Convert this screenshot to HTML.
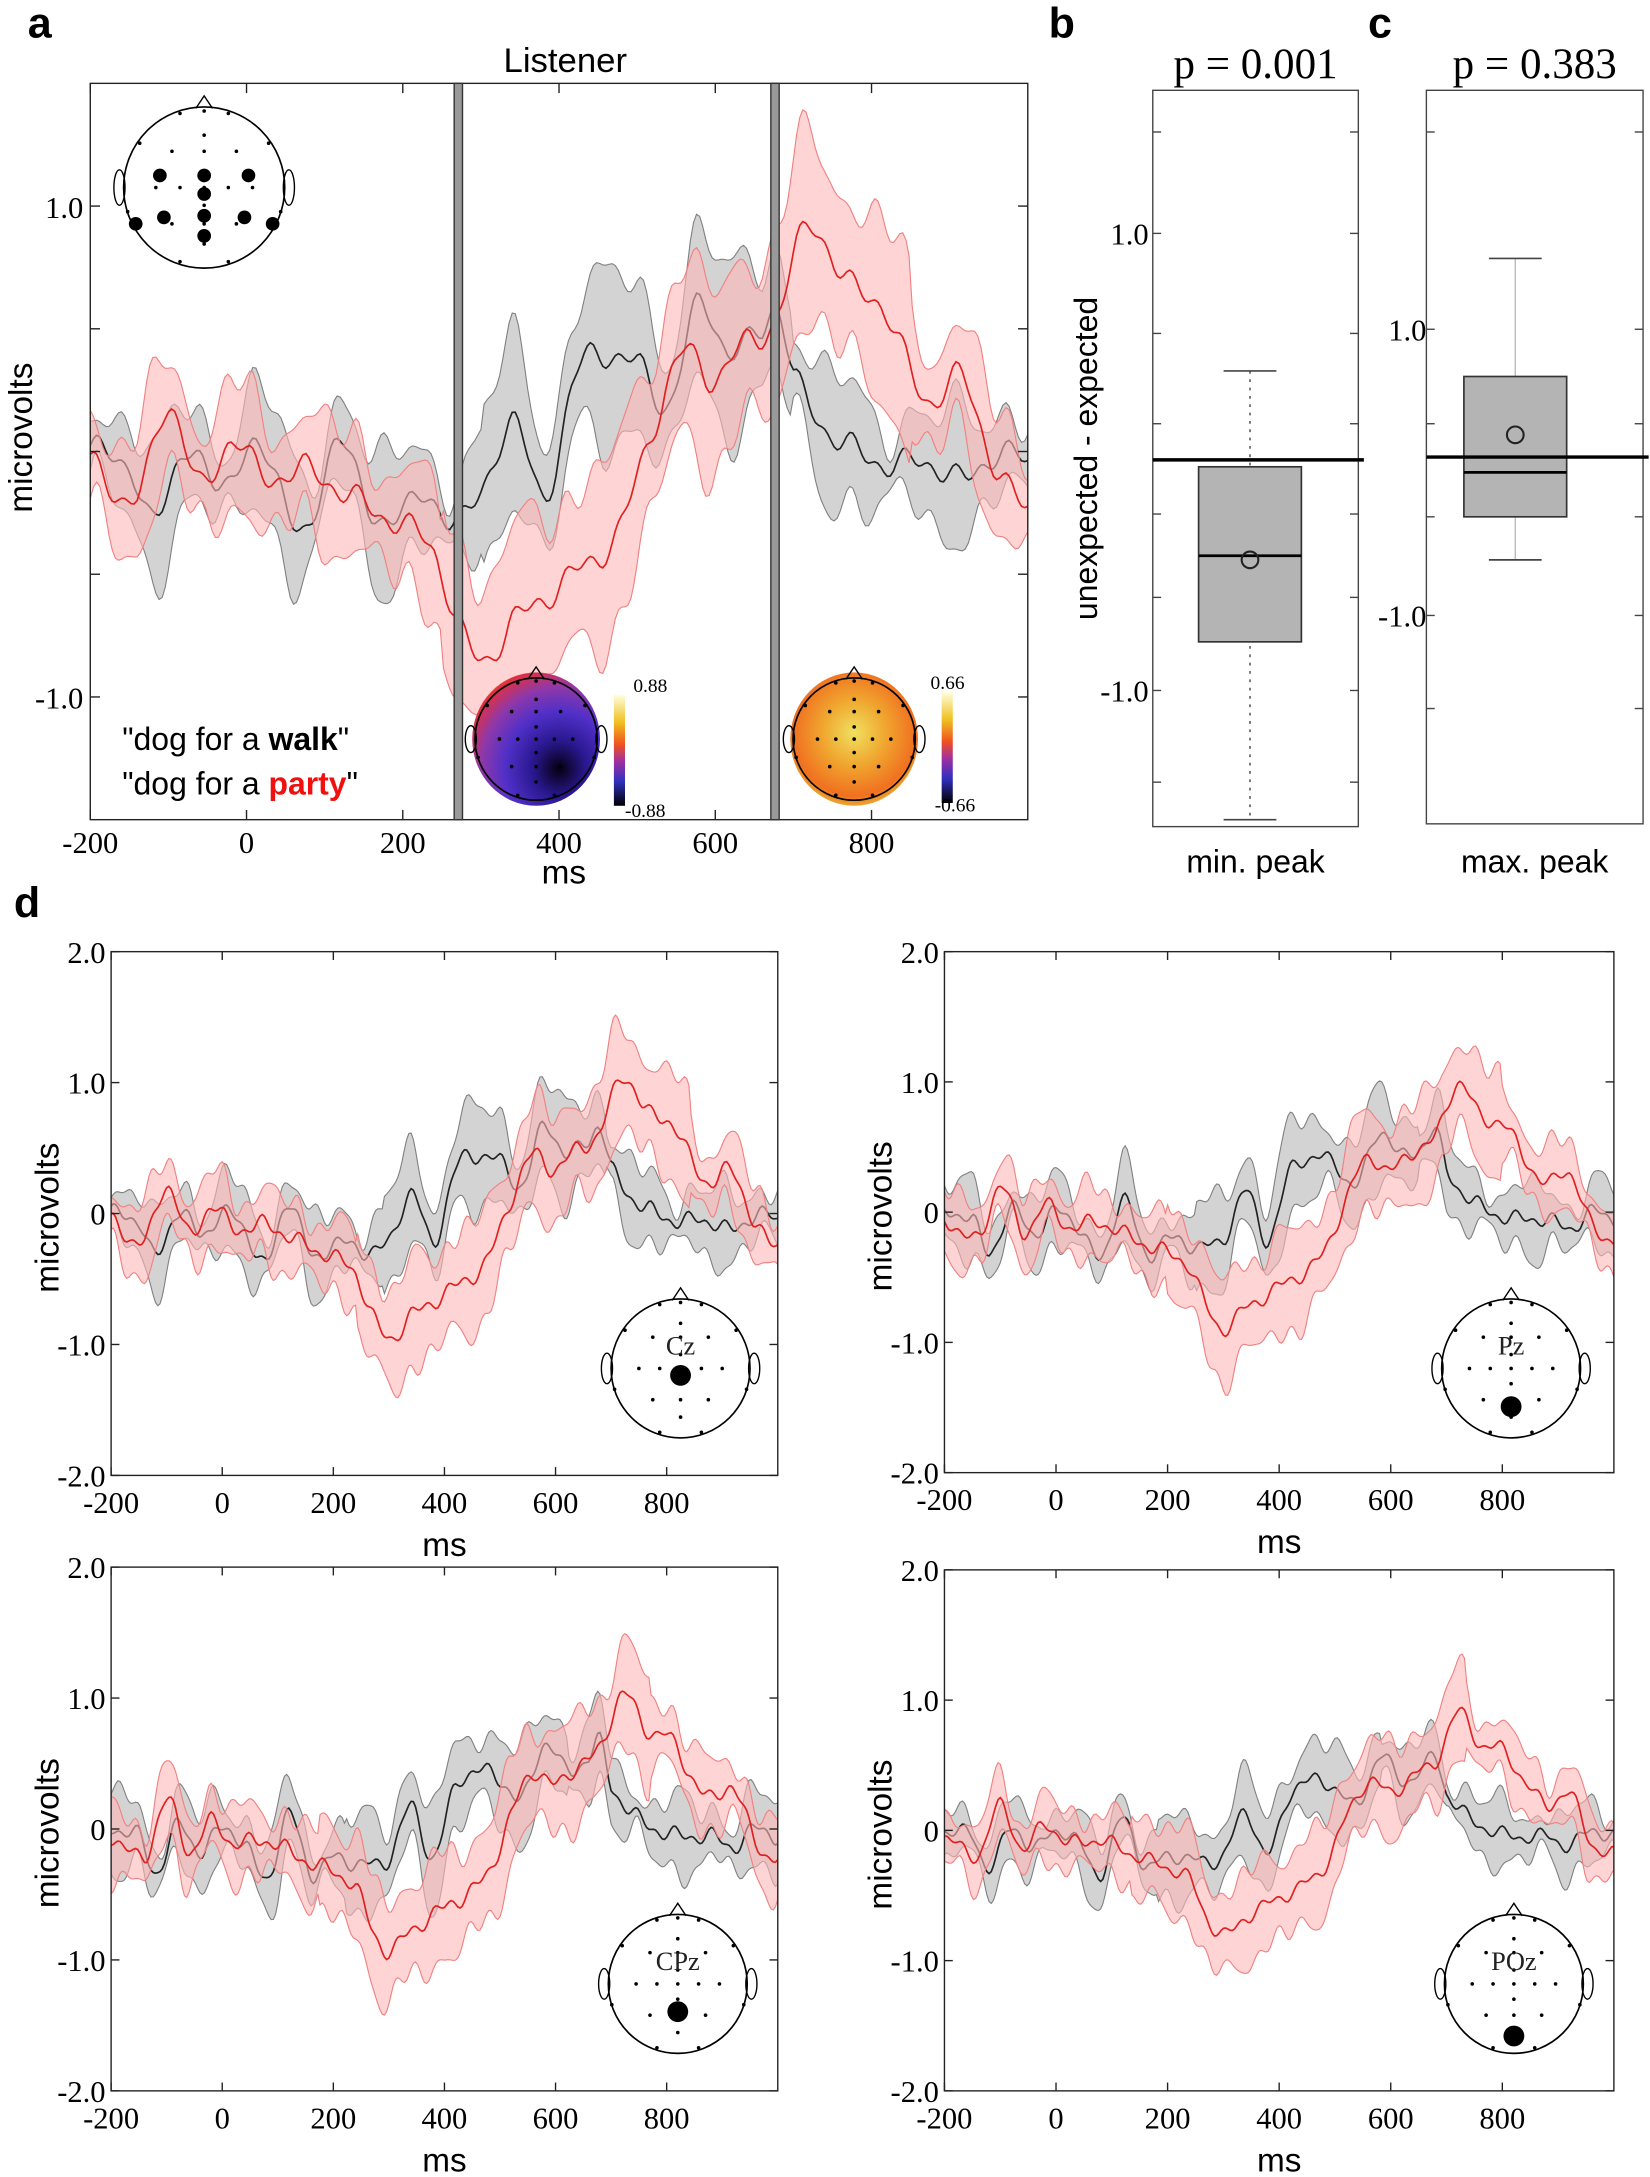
<!DOCTYPE html>
<html><head><meta charset="utf-8"><style>html,body{margin:0;padding:0;background:#fff}svg{display:block}</style></head>
<body>
<svg id="s" xmlns="http://www.w3.org/2000/svg" width="1650" height="2177" viewBox="0 0 1188 1567" preserveAspectRatio="none" font-family="Liberation Sans, sans-serif">
<defs>
<radialGradient id="t1" cx="0.68" cy="0.72" r="0.85">
<stop offset="0" stop-color="#050010"/><stop offset="0.25" stop-color="#2a1890"/><stop offset="0.5" stop-color="#5030c8"/><stop offset="0.72" stop-color="#9038a8"/><stop offset="0.9" stop-color="#e03040"/><stop offset="1" stop-color="#f08020"/></radialGradient>
<radialGradient id="t2" cx="0.5" cy="0.45" r="0.6">
<stop offset="0" stop-color="#f0e060"/><stop offset="0.4" stop-color="#f0a830"/><stop offset="0.8" stop-color="#f07020"/><stop offset="1" stop-color="#e8d040"/></radialGradient>
<linearGradient id="cb" x1="0" y1="0" x2="0" y2="1">
<stop offset="0" stop-color="#ffffe0"/><stop offset="0.25" stop-color="#f0c020"/><stop offset="0.45" stop-color="#f05020"/><stop offset="0.6" stop-color="#a030a0"/><stop offset="0.78" stop-color="#3030c0"/><stop offset="1" stop-color="#000"/></linearGradient>
</defs>
<g id="root"></g>
</svg>
<script>
var NS="http://www.w3.org/2000/svg",root=document.getElementById('root'),defs=document.querySelector('defs');
function el(t,a,p){var e=document.createElementNS(NS,t);for(var k in a)e.setAttribute(k,a[k]);(p||root).appendChild(e);return e;}
function txt(x,y,s,a){var e=el('text',Object.assign({x:x,y:y},a||{}));e.textContent=s;return e;}
function cr(pts,t){var i=0;while(i<pts.length-2&&pts[i+1][0]<t)i++;var p0=pts[Math.max(i-1,0)],p1=pts[i],p2=pts[i+1],p3=pts[Math.min(i+2,pts.length-1)];var u=(t-p1[0])/(p2[0]-p1[0]);u=Math.max(0,Math.min(1,u));var u2=u*u,u3=u2*u;return 0.5*((2*p1[1])+(-p0[1]+p2[1])*u+(2*p0[1]-5*p1[1]+4*p2[1]-p3[1])*u2+(-p0[1]+3*p1[1]-3*p2[1]+p3[1])*u3);}
var K=[[-200,0],[-150,-0.05],[-120,-0.3],[-80,0.02],[-40,-0.15],[0,0],[40,-0.1],[80,-0.35],[120,0.1],[160,-0.3],[200,-0.2],[260,-0.25],[300,-0.2],[340,0.15],[380,-0.2],[420,0.3],[460,0.4],[500,0.35],[540,0.2],[580,0.6],[620,0.4],[660,0.5],[680,0.6],[700,0.3],[740,0.1],[780,0.0],[820,-0.05],[880,-0.05],[920,-0.12],[960,0.0],[1000,-0.05]];
var R=[[-200,-0.05],[-140,-0.2],[-100,0.2],[-60,-0.15],[-20,0.05],[20,-0.1],[80,-0.08],[140,-0.2],[200,-0.3],[240,-0.4],[270,-0.7],[300,-0.85],[340,-0.7],[400,-0.55],[440,-0.45],[480,-0.3],[520,0.1],[560,0.4],[600,0.3],[640,0.45],[680,0.55],[720,0.95],[760,0.7],[800,0.65],[840,0.4],[880,0.2],[920,0.3],[960,-0.1],[1000,-0.2]];
function hwK(t){return 0.2+0.09*Math.sin(t/23)+0.06*Math.sin(t/9+1)+(t>300&&t<700?0.08:0);}
function hwR(t){return 0.22+0.07*Math.sin(t/19+2)+0.05*Math.sin(t/7)+(t>250&&t<850?0.12:0);}
var cid=0;
function plot(x0,x1,yTop,yBot,msA,msB,vTop,vBot,sc,ph){
 cid++;var c=el('clipPath',{id:'c'+cid},defs);el('rect',{x:x0,y:yTop,width:x1-x0,height:yBot-yTop},c);
 var g=el('g',{'clip-path':'url(#c'+cid+')'});
 function X(t){return x0+(t-msA)/(msB-msA)*(x1-x0);}function Y(v){return yTop+(vTop-v)/(vTop-vBot)*(yBot-yTop);}
 [[K,hwK,'#c8c8c8','#808080','#222'],[R,hwR,'#ffb8b8','#f08080','#e02020']].forEach(function(s,si){
  var up=[],dn=[],m=[];
  for(var t=msA;t<=msB;t+=4){var w=0.04*Math.sin(t/11+ph+si)+0.03*Math.sin(t/5.3+ph*2);var v=(cr(s[0],t)+w)*sc;var h=s[1](t+ph*30)*sc;m.push(X(t).toFixed(1)+','+Y(v).toFixed(1));up.push(X(t).toFixed(1)+','+Y(v+h).toFixed(1));dn.unshift(X(t).toFixed(1)+','+Y(v-h).toFixed(1));}
  el('path',{d:'M'+up.join('L')+'L'+dn.join('L')+'Z',fill:s[2],'fill-opacity':si?0.6:0.8,stroke:s[3],'stroke-width':0.8},g);
  el('path',{d:'M'+m.join('L'),fill:'none',stroke:s[4],'stroke-width':1.2},g);
 });
 el('rect',{x:x0,y:yTop,width:x1-x0,height:yBot-yTop,fill:'none',stroke:'#222','stroke-width':1});
 return {X:X,Y:Y};
}
function head(cx,cy,r,big,lab){
 el('path',{d:'M'+(cx-6)+','+(cy-r+1)+'L'+cx+','+(cy-r-8)+'L'+(cx+6)+','+(cy-r+1),fill:'none',stroke:'#000','stroke-width':1});
 el('ellipse',{cx:cx-r-3,cy:cy,rx:4,ry:r*0.22,fill:'none',stroke:'#000','stroke-width':1});
 el('ellipse',{cx:cx+r+3,cy:cy,rx:4,ry:r*0.22,fill:'none',stroke:'#000','stroke-width':1});
 el('circle',{cx:cx,cy:cy,r:r,fill:'none',stroke:'#000','stroke-width':1.2});
 var sm=[[0,-0.95],[-0.3,-0.92],[0.3,-0.92],[-0.8,-0.55],[0.8,-0.55],[0,-0.65],[-0.4,-0.45],[0,-0.45],[0.4,-0.45],[-0.6,0],[-0.3,0],[0,0],[0.3,0],[0.6,0],[-0.95,0.3],[0.95,0.3],[-0.4,0.45],[0,0.45],[0.4,0.45],[0,0.7],[-0.3,0.92],[0.3,0.92],[0,-0.2],[0,0.22]];
 sm.forEach(function(p){el('circle',{cx:cx+p[0]*r,cy:cy+p[1]*r,r:1.3,fill:'#000'});});
 if(big)big.forEach(function(p){el('circle',{cx:cx+p[0]*r,cy:cy+p[1]*r,r:lab?7.5:r*0.085,fill:'#000'});});
 if(lab)txt(cx,cy-r*0.2,lab,{'font-size':19,'text-anchor':'middle',fill:'#222','font-family':'Liberation Serif, serif'});
}
// Panel a
var a=plot(65,740,60,590,-200,1000,1.5,-1.5,1,0);
[[330],[558]].forEach(function(p){el('rect',{x:p[0]-3,y:60,width:6,height:530,fill:'#999',stroke:'#333','stroke-width':1});});
[-200,0,200,400,600,800].forEach(function(t){var x=a.X(t);el('line',{x1:x,y1:590,x2:x,y2:583,stroke:'#222'});el('line',{x1:x,y1:60,x2:x,y2:67,stroke:'#222'});txt(x,614,t,{'font-size':22,'text-anchor':'middle','font-family':'Liberation Serif, serif'});});
[1,0.5,0,-0.5,-1].forEach(function(v){var y=a.Y(v);el('line',{x1:65,y1:y,x2:72,y2:y,stroke:'#222'});el('line',{x1:740,y1:y,x2:733,y2:y,stroke:'#222'});});
txt(60,157,'1.0',{'font-size':22,'text-anchor':'end','font-family':'Liberation Serif, serif'});
txt(60,510,'-1.0',{'font-size':22,'text-anchor':'end','font-family':'Liberation Serif, serif'});
txt(406,636,'ms',{'font-size':24,'text-anchor':'middle'});
txt(407,52,'Listener',{'font-size':25,'text-anchor':'middle'});
txt(23,315,'microvolts',{'font-size':24,'text-anchor':'middle',transform:'rotate(-90 23 315)'});
head(147,135,58,[[-0.55,-0.15],[0,-0.15],[0.55,-0.15],[0,0.08],[-0.5,0.37],[0,0.35],[0.5,0.37],[-0.85,0.45],[0.85,0.45],[0,0.6]]);
var t1=txt(88,540,'"dog for a ',{'font-size':23});var s1=el('tspan',{'font-weight':'bold'},t1);s1.textContent='walk';var s1b=el('tspan',{},t1);s1b.textContent='"';
var t2=txt(88,572,'"dog for a ',{'font-size':23});var s2=el('tspan',{'font-weight':'bold',fill:'#f01010'},t2);s2.textContent='party';var s2b=el('tspan',{},t2);s2b.textContent='"';
el('ellipse',{cx:386,cy:532,rx:46,ry:48,fill:'url(#t1)'});head(386,532,44);
el('rect',{x:442,y:500,width:8,height:80,fill:'url(#cb)'});
txt(456,498,'0.88',{'font-size':14,'font-family':'Liberation Serif, serif'});txt(450,588,'-0.88',{'font-size':14,'font-family':'Liberation Serif, serif'});
el('ellipse',{cx:615,cy:532,rx:46,ry:48,fill:'url(#t2)'});head(615,532,44);
el('rect',{x:678,y:498,width:8,height:80,fill:'url(#cb)'});
txt(670,496,'0.66',{'font-size':14,'font-family':'Liberation Serif, serif'});txt(673,584,'-0.66',{'font-size':14,'font-family':'Liberation Serif, serif'});
// b, c
function box(x0,x1,yT,yB,zy,bt,bb,med,circ,wt,wb,ticks,tl,p,lab,solid){
 el('rect',{x:x0,y:yT,width:x1-x0,height:yB-yT,fill:'none',stroke:'#444','stroke-width':1});
 ticks.forEach(function(y){el('line',{x1:x0,y1:y,x2:x0+6,y2:y,stroke:'#444'});el('line',{x1:x1,y1:y,x2:x1-6,y2:y,stroke:'#444'});});
 var cx=(x0+x1)/2+ (lab=='min. peak'?-4:-14);
 if(solid)el('line',{x1:cx,y1:wt,x2:cx,y2:wb,stroke:'#bbb','stroke-width':1});
 else el('line',{x1:cx,y1:wt,x2:cx,y2:wb,stroke:'#444','stroke-dasharray':'2,4','stroke-width':1});
 el('line',{x1:cx-19,y1:wt,x2:cx+19,y2:wt,stroke:'#444','stroke-width':1.2});el('line',{x1:cx-19,y1:wb,x2:cx+19,y2:wb,stroke:'#444','stroke-width':1.2});
 el('rect',{x:cx-37,y:bt,width:74,height:bb-bt,fill:'#b4b4b4',stroke:'#333','stroke-width':1.2});
 el('line',{x1:cx-37,y1:med,x2:cx+37,y2:med,stroke:'#000','stroke-width':2});
 el('circle',{cx:cx,cy:circ,r:6,fill:'none',stroke:'#222','stroke-width':1.5});
 el('line',{x1:x0,y1:zy,x2:x1+4,y2:zy,stroke:'#000','stroke-width':2.5});
 tl.forEach(function(q){txt(q[0],q[1],q[2],{'font-size':22,'text-anchor':'end','font-family':'Liberation Serif, serif'});});
 txt((x0+x1)/2,56,p,{'font-size':31,'text-anchor':'middle','font-family':'Liberation Serif, serif'});
 txt((x0+x1)/2,628,lab,{'font-size':23,'text-anchor':'middle'});
}
box(830,978,65,595,331,336,462,400,403,267,590,[95,168,240,305,370,430,497,563],[[827,176,'1.0'],[827,505,'-1.0']],'p = 0.001','min. peak',false);
box(1027,1183,65,593,329,271,372,340,313,186,403,[95,237,305,372,443,510],[[1027,245,'1.0'],[1027,451,'-1.0']],'p = 0.383','max. peak',true);
txt(790,330,'unexpected - expected',{'font-size':23,'text-anchor':'middle',transform:'rotate(-90 790 330)'});
// letters
[['a',20,27],['b',755,27],['c',985,27],['d',10,660]].forEach(function(q){txt(q[1],q[2],q[0],{'font-size':31,'font-weight':'bold'});});
// d panels
[[80,560,685,1062,'Cz',1.12,0.3,[490,985],[0,0.1]],[680,1162,685,1060,'Pz',1.05,1.7,[1088,985],[0,0.55]],[80,560,1128,1505,'CPz',1.1,2.6,[488,1428],[0,0.4]],[680,1162,1130,1505,'POz',0.95,3.9,[1090,1428],[0,0.75]]].forEach(function(P){
 var yT=P[2],yB=P[3];var p=plot(P[0],P[1],yT,yB,-200,1000,2,-2,P[5],P[6]);
 [-200,0,200,400,600,800].forEach(function(t){var x=p.X(t);el('line',{x1:x,y1:yB,x2:x,y2:yB-6,stroke:'#222'});el('line',{x1:x,y1:yT,x2:x,y2:yT+6,stroke:'#222'});txt(x,yB+27,t,{'font-size':22,'text-anchor':'middle','font-family':'Liberation Serif, serif'});});
 [[2,'2.0'],[1,'1.0'],[0,'0'],[-1,'-1.0'],[-2,'-2.0']].forEach(function(q){var y=p.Y(q[0]);el('line',{x1:P[0],y1:y,x2:P[0]+6,y2:y,stroke:'#222'});el('line',{x1:P[1],y1:y,x2:P[1]-6,y2:y,stroke:'#222'});txt(P[0]-4,y+8,q[1],{'font-size':22,'text-anchor':'end','font-family':'Liberation Serif, serif'});});
 txt((P[0]+P[1])/2,yB+58,'ms',{'font-size':24,'text-anchor':'middle'});
 var ly=(yT+yB)/2+3,lx=P[0]-38;txt(lx,ly,'microvolts',{'font-size':24,'text-anchor':'middle',transform:'rotate(-90 '+lx+' '+ly+')'});
 head(P[7][0],P[7][1],50,[P[8]],P[4]);
});
</script>
</body></html>
